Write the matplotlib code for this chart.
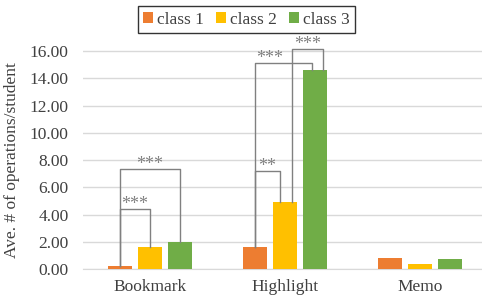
import numpy as np
import matplotlib.pyplot as plt

categories = ["Bookmark", "Highlight", "Memo"]
series_names = ["class 1", "class 2", "class 3"]
class1 = [0.22, 1.65, 0.85]
class2 = [1.65, 4.95, 0.37]
class3 = [2.00, 14.60, 0.75]
colors = ["#ED7D31", "#FFC000", "#70AD47"]
y_ticks = [0, 2, 4, 6, 8, 10, 12, 14, 16]

# significance brackets: (category, class a, class b, height, label)
brackets = [
    (0, 0, 1, 4.40, "***"),
    (0, 0, 2, 7.35, "***"),
    (1, 0, 1, 7.20, "**"),
    (1, 0, 2, 15.10, "***"),
    (1, 1, 2, 16.15, "***"),
]
# small leg shifts (fraction of category width) so the lines don't overlap
leg_shift = {(1, 0, 1): (0.0, -0.04), (1, 0, 2): (0.0, -0.025),
             (1, 1, 2): (0.05, 0.06)}
label_shift = {(1, 0, 2): -0.1}

plt.rcParams["font.family"] = "Liberation Serif"
text_col = "#404040"
fs = 12.5

fig = plt.figure(figsize=(4.82, 3.02), dpi=100)
ax = fig.add_axes([82.5 / 482, 32.7 / 302, 1 - 82.5 / 482, (269.3 - 23.6) / 302])

values = [class1, class2, class3]
x = np.arange(len(categories))
step = 0.222
width = 0.174
for i, vals in enumerate(values):
    ax.bar(x + (i - 1) * step, vals, width=width, color=colors[i],
           label=series_names[i], zorder=3)

bcol = "#808080"
for g, a, b, h, lab in brackets:
    da, db = leg_shift.get((g, a, b), (0.0, 0.0))
    xa = g + (a - 1) * step + da
    xb = g + (b - 1) * step + db
    ya = values[a][g]
    yb = values[b][g]
    ax.plot([xa, xa, xb, xb], [ya, h, h, yb], color=bcol, lw=1.0, zorder=4)
    xm = (xa + xb) / 2 + label_shift.get((g, a, b), 0.0)
    ax.text(xm, h + 0.02, lab, ha="center", va="baseline", fontsize=13,
            color=bcol, zorder=5)

ax.set_xlim(-0.5, 2.46)
ax.set_ylim(0, 18)
ax.set_yticks(y_ticks)
ax.set_yticklabels([f"{v:.2f}" for v in y_ticks])
ax.set_xticks(x)
ax.set_xticklabels(categories)
ax.grid(axis="y", color="#d9d9d9", lw=1, zorder=0)
ax.tick_params(length=0, labelsize=fs, colors=text_col)
ax.tick_params(axis="x", pad=7)
ax.tick_params(axis="y", pad=10)
for s in ["top", "right", "left"]:
    ax.spines[s].set_visible(False)
ax.spines["bottom"].set_color("#d9d9d9")
ax.set_ylabel("Ave. # of operations/student", fontsize=fs, color=text_col,
              va="center")
ax.yaxis.set_label_coords((12 - 82.5) / 399.5, 8 / 18)

leg = fig.legend(loc="center", bbox_to_anchor=(246.5 / 482, 1 - 19.5 / 302),
                 ncol=3, fontsize=fs, frameon=True, fancybox=False,
                 handlelength=0.55, handleheight=0.55, handletextpad=0.25,
                 columnspacing=0.7, borderpad=0.3, labelcolor=text_col)
leg.get_frame().set_edgecolor("black")
leg.get_frame().set_linewidth(1.0)

fig.savefig("out.png", dpi=100)
